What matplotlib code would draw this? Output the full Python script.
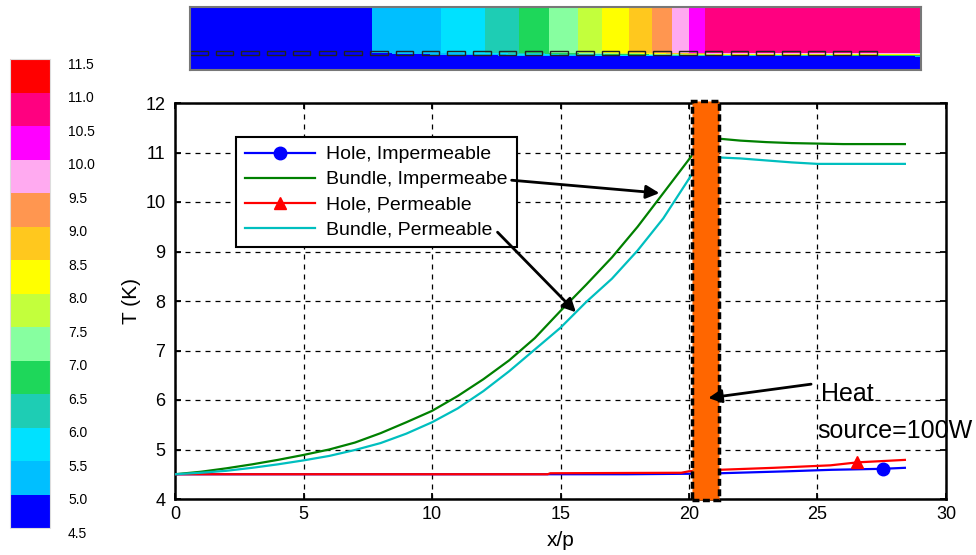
import numpy as np
import matplotlib
matplotlib.use("Agg")
import matplotlib.pyplot as plt
from matplotlib.colors import ListedColormap, BoundaryNorm
from matplotlib.cm import ScalarMappable
from matplotlib.patches import Rectangle
from matplotlib.lines import Line2D
import matplotlib.transforms as mtransforms

plt.rcParams['font.family'] = ['Liberation Sans', 'DejaVu Sans']

# bundle curves, before and after the heat source
bundle_x_pre = [0, 1, 2, 3, 4, 5, 6, 7, 8, 9, 10, 11, 12, 13, 14, 15, 16, 17, 18, 19, 20.1]
bundle_imp_pre = [4.50, 4.55, 4.62, 4.70, 4.79, 4.89, 5.00, 5.14, 5.33, 5.55, 5.78,
                  6.08, 6.42, 6.80, 7.25, 7.80, 8.33, 8.88, 9.50, 10.18, 10.93]
bundle_per_pre = [4.50, 4.53, 4.57, 4.63, 4.70, 4.78, 4.87, 4.99, 5.13, 5.32, 5.55,
                  5.83, 6.18, 6.58, 7.02, 7.46, 7.98, 8.45, 9.02, 9.67, 10.55]
bundle_x_post = [21.15, 22, 23, 24, 25, 26, 27, 28.4]
bundle_imp_post = [11.28, 11.24, 11.21, 11.19, 11.18, 11.17, 11.17, 11.17]
bundle_per_post = [10.90, 10.88, 10.84, 10.80, 10.77, 10.77, 10.77, 10.77]

# hole curves
hole_imp_x = [0, 17.6, 20.0, 21.2, 23.85, 25.55, 27.55, 28.4]
hole_imp_T = [4.50, 4.50, 4.51, 4.52, 4.56, 4.59, 4.61, 4.63]
hole_per_x = [0, 14.5, 14.6, 19.7, 20.0, 21.2, 23.3, 25.5, 26.55, 28.4]
hole_per_T = [4.50, 4.50, 4.52, 4.53, 4.56, 4.59, 4.63, 4.68, 4.74, 4.79]
hole_imp_mark = 6   # index of the circle marker
hole_per_mark = 8   # index of the triangle marker

heat_x0, heat_x1 = 20.1, 21.15

# colour scale
levels = np.arange(4.5, 11.51, 0.5)
band_colors = ['#0000ff', '#00bfff', '#00e1ff', '#1ecdb4', '#1ed75a', '#87ffa0', '#c3ff3c',
               '#ffff00', '#ffc81e', '#ff9650', '#ffaaf0', '#ff00ff', '#ff0080', '#ff0000']
cmap = ListedColormap(band_colors)
norm = BoundaryNorm(levels, cmap.N)

fig = plt.figure(figsize=(9.76, 5.55), dpi=100)

# ---- main plot
ax = fig.add_axes([175/976, 1-499/555, 771/976, 396/555])
ax.plot(hole_imp_x, hole_imp_T, color='#0000ff', lw=1.6, zorder=3)
ax.plot(bundle_x_pre, bundle_imp_pre, color='#008000', lw=1.6, zorder=3)
ax.plot(bundle_x_post, bundle_imp_post, color='#008000', lw=1.6, zorder=3)
ax.plot(hole_per_x, hole_per_T, color='#ff0000', lw=1.6, zorder=3)
ax.plot(bundle_x_pre, bundle_per_pre, color='#00bfbf', lw=1.6, zorder=3)
ax.plot(bundle_x_post, bundle_per_post, color='#00bfbf', lw=1.6, zorder=3)
ax.plot(hole_imp_x[hole_imp_mark], hole_imp_T[hole_imp_mark], 'o', color='#0000ff', ms=9, zorder=4)
ax.plot(hole_per_x[hole_per_mark], hole_per_T[hole_per_mark], '^', color='#ff0000', ms=8, zorder=4)

ax.add_patch(Rectangle((heat_x0, 3.97), heat_x1-heat_x0, 8.07, facecolor='#ff6600',
                       edgecolor='black', lw=2.5, linestyle=(0, (2, 1)), clip_on=False, zorder=6))

ax.set_xlim(0, 30)
ax.set_ylim(4, 12)
ax.set_xticks(np.arange(0, 31, 5))
ax.set_yticks(np.arange(4, 13, 1))
ax.grid(True, color='black', linestyle=(0, (4, 4)), lw=0.9)
ax.tick_params(direction='in', length=4, width=1.3, top=True, right=True, labelsize=13)
ax.tick_params(axis='x', pad=5)
ax.tick_params(axis='y', pad=7)
for s in ax.spines.values():
    s.set_linewidth(1.8)
ax.set_xlabel('x/p', fontsize=15, labelpad=6)
ax.set_ylabel('T (K)', fontsize=15, labelpad=3)

handles = [Line2D([], [], color='#0000ff', lw=1.6, marker='o', ms=9),
           Line2D([], [], color='#008000', lw=1.6),
           Line2D([], [], color='#ff0000', lw=1.6, marker='^', ms=8),
           Line2D([], [], color='#00bfbf', lw=1.6)]
labels = ['Hole, Impermeable', 'Bundle, Impermeabe', 'Hole, Permeable', 'Bundle, Permeable']
leg = ax.legend(handles, labels, loc='upper left', bbox_to_anchor=(0.079, 0.914),
                borderaxespad=0, fontsize=14, fancybox=False, edgecolor='black',
                framealpha=1, handlelength=3.6, handletextpad=0.6, labelspacing=0.38,
                borderpad=0.45, numpoints=1)
leg.get_frame().set_linewidth(1.5)
leg.set_zorder(5)

arrow = dict(arrowstyle='-|>', color='black', lw=2, mutation_scale=20, shrinkA=0, shrinkB=0)
ax.annotate('', xy=(bundle_x_pre[19] - 0.15, bundle_imp_pre[19]), xytext=(13.1, 10.44),
            arrowprops=arrow, zorder=7)
ax.annotate('', xy=(15.6, np.interp(15.6, bundle_x_pre, bundle_per_pre)), xytext=(12.55, 9.39),
            arrowprops=arrow, zorder=7)
ax.annotate('', xy=(20.75, 6.04), xytext=(24.75, 6.32), arrowprops=arrow, zorder=7)
ax.text(25.15, 5.98, 'Heat', fontsize=18, ha='left', va='baseline')
ax.text(25.0, 5.23, 'source=100W', fontsize=18, ha='left', va='baseline', clip_on=False)

# ---- temperature field strip
sx = np.array(bundle_x_pre + bundle_x_post)
st_top = np.array(bundle_per_pre + bundle_per_post)
st_bot = np.interp(sx, hole_per_x, hole_per_T)
sy = np.array([0, 0.22, 0.28, 1.0])
Z = np.vstack([st_bot, st_bot, st_top, st_top])
sax = fig.add_axes([190/976, 1-70/555, 731/976, 63/555])
sax.contourf(sx, sy, Z, levels=levels, colors=band_colors)
for i in range(27):
    sax.add_patch(Rectangle((i, 0.244), 0.68, 0.064, fill=False, ec='#222222', lw=1))
sax.set_xlim(0, sx[-1])
sax.set_ylim(0, 1)
sax.set_xticks([])
sax.set_yticks([])
for s in sax.spines.values():
    s.set_color('#777777')
    s.set_linewidth(1.5)

# ---- colour bar
cax = fig.add_axes([10/976, 1-528/555, 40/976, 469/555])
cb = fig.colorbar(ScalarMappable(norm=norm, cmap=cmap), cax=cax, ticks=levels)
cb.outline.set_edgecolor('#dddddd')
cb.outline.set_linewidth(0.8)
cax.set_yticklabels(['%.1f' % v for v in levels])
cax.tick_params(length=0, labelsize=10, pad=13)
offset = mtransforms.ScaledTranslation(0, -3/72, fig.dpi_scale_trans)
for lab in cax.get_yticklabels():
    lab.set_transform(lab.get_transform() + offset)

fig.savefig('out.png', dpi=100)
